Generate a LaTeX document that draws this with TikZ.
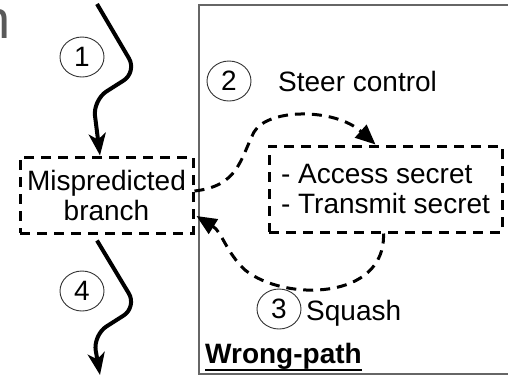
\documentclass[tikz,border=0pt]{standalone}
\usepackage{fontspec}
\setmainfont{Liberation Sans}
\usetikzlibrary{arrows.meta,shapes.geometric,calc}
\begin{document}
\begin{tikzpicture}[x=1pt,y=-1pt,
  font=\fontsize{28}{30}\selectfont,
  dbox/.style={draw, line width=3pt, dash pattern=on 10pt off 7pt, align=center, inner sep=0pt},
  num/.style={ellipse, draw=black!80, line width=0.9pt, minimum width=44pt, minimum height=40pt, inner sep=0pt},
  solidarrow/.style={line width=4pt, rounded corners=16pt, -{Stealth[length=22pt,width=17pt,inset=6pt]}},
  darrow/.style={line width=3pt, dash pattern=on 10pt off 7pt, -{Triangle[length=20pt,width=17pt]}},
  label/.style={inner sep=0pt, anchor=base west}
]
\useasboundingbox (0,0) rectangle (508,376);
% fragment of a cropped letter
\begin{scope}
  \clip (0,0) rectangle (9,60);
  \node[inner sep=0pt, anchor=base east, text=black!65, font=\fontsize{54}{54}\selectfont] (frag) at (11,38) {n};
\end{scope}
% wrong-path region
\draw[black!60, line width=1.5pt] (512,5) -- (199,5) -- (199,374) -- (512,374);
% boxes
\node[dbox, minimum width=173pt, minimum height=76pt] (mis) at (106.5,195) {Mispredicted\\branch};
\node[dbox, minimum width=233pt, minimum height=86pt, align=left] (acc) at (385.5,189) {- Access secret\\- Transmit secret};
% numbers
\node[num] (c1) at (82,57) {1};
\node[num] (c2) at (229,81) {2};
\node[num] (c3) at (279,309) {3};
\node[num] (c4) at (82,291) {4};
% labels
\node[label] (steer) at (278,91) {Steer control};
\node[label] (squash) at (306,320) {Squash};
\node[label, font=\fontsize{28}{30}\selectfont\bfseries] (wp) at (205,363) {Wrong-path};
\draw[line width=2pt] ($(wp.base west)+(0,7)$) -- ($(wp.base east)+(0,7)$);
% free ends
\coordinate (top) at (97,4);
\coordinate (bot) at (100,375);
% arrows
\draw[solidarrow] (top) -- (137,72) -- (93,100) -- (mis.north -| 100,0);
\draw[solidarrow] (mis.south -| 97,0) ++(0,6) -- (137,307) -- (93,335) -- (bot);
\draw[darrow] ([yshift=4pt]mis.east) .. controls (238,186) and (240,160) .. (254,132)
  .. controls (268,108) and (335,108) .. ([xshift=-10pt]acc.north);
\draw[darrow] ([xshift=-2pt]acc.south) .. controls (386,300) and (285,302) .. (245,270)
  .. controls (226,252) and (222,232) .. ([yshift=-21pt,xshift=2pt]mis.east);
\end{tikzpicture}
\end{document}
